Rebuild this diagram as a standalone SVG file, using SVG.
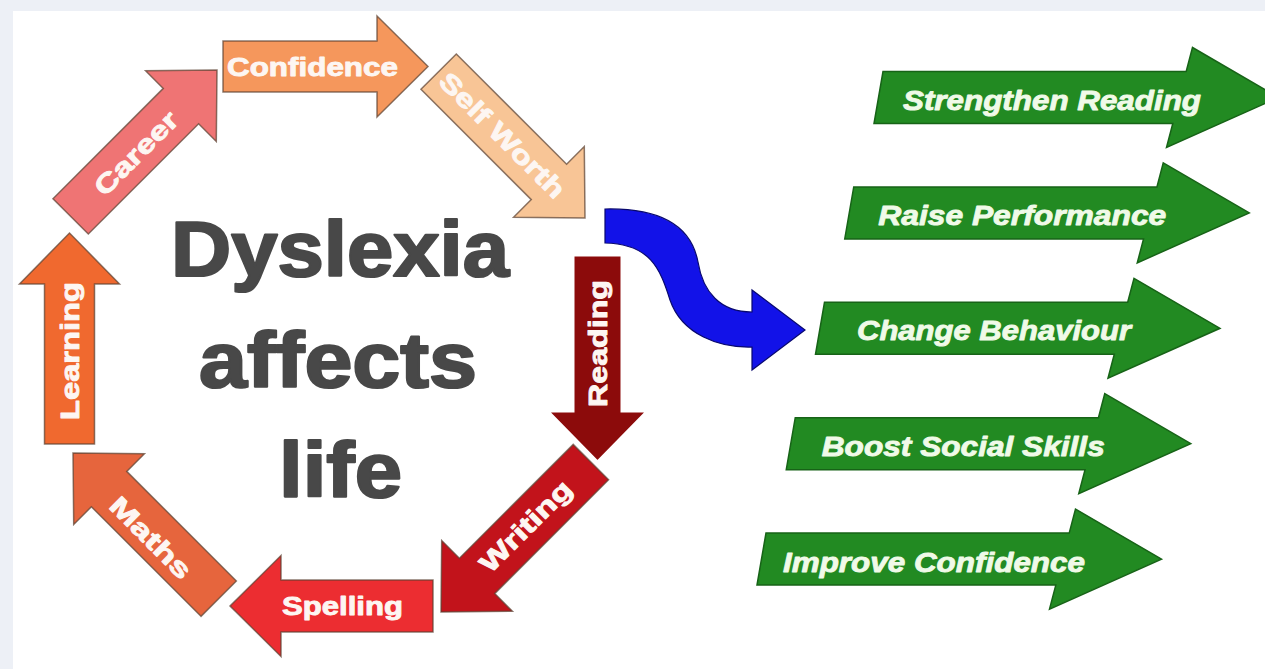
<svg xmlns="http://www.w3.org/2000/svg" width="1265" height="669" viewBox="0 0 1265 669">
<style>
.ring{stroke:#5a4030;stroke-opacity:.7;stroke-width:1.5;stroke-linejoin:miter}
.lbl{font-family:"Liberation Sans",Arial,sans-serif;font-weight:bold;font-size:26px;fill:#fdf6f2;stroke:#fdf6f2;stroke-width:0.9;stroke-linejoin:round}
.big{font-family:"Liberation Sans",Arial,sans-serif;font-weight:bold;font-size:77px;fill:#484848;stroke:#484848;stroke-width:2.2;stroke-linejoin:round}
.garr{fill:#228a22;stroke:#176317;stroke-width:1.5;stroke-linejoin:miter}
.gl{font-family:"Liberation Sans",Arial,sans-serif;font-weight:bold;font-style:italic;font-size:28px;fill:#f0fae8;stroke:#f0fae8;stroke-width:0.9;stroke-linejoin:round}
</style>
<defs>
<path id="gshape" d="M4.5,-26 L307.7,-26 L314,-50 L400,0 L288,50 L294.3,26 L-4.5,26 Z"/>
</defs>
<rect x="0" y="0" width="1265" height="669" fill="#edf0f6"/>
<rect x="13" y="11" width="1252" height="658" fill="#ffffff"/>

<g id="title">
<text class="big" x="340" y="276" text-anchor="middle" textLength="338" lengthAdjust="spacingAndGlyphs">Dyslexia</text>
<text class="big" x="338" y="387" text-anchor="middle" textLength="278" lengthAdjust="spacingAndGlyphs">affects</text>
<text class="big" x="340.5" y="497" text-anchor="middle" textLength="123" lengthAdjust="spacingAndGlyphs">life</text>
</g>

<g id="learning">
<path class="ring" fill="#f0692f" transform="translate(69.5,233) rotate(-90)" d="M-211,-25 H-51 V-50 L0,0 L-51,50 V25 H-211 Z"/>
<text class="lbl" transform="translate(69.5,351) rotate(-90)" x="0" y="9.3" text-anchor="middle" textLength="138" lengthAdjust="spacingAndGlyphs">Learning</text>
</g>
<g id="career">
<path class="ring" fill="#ef7474" transform="translate(217,70) rotate(-45)" d="M-207,-25 H-51 V-50 L0,0 L-51,50 V25 H-207 Z"/>
<text class="lbl" transform="translate(136,153) rotate(-45)" x="0" y="9.3" text-anchor="middle" textLength="107" lengthAdjust="spacingAndGlyphs">Career</text>
</g>
<g id="confidence">
<path class="ring" fill="#f5975c" transform="translate(428,66.5)" d="M-205,-25.5 H-51 V-50.5 L0,0 L-51,50.5 V25.5 H-205 Z"/>
<text class="lbl" x="312.5" y="75.8" text-anchor="middle" textLength="171" lengthAdjust="spacingAndGlyphs">Confidence</text>
</g>
<g id="selfworth">
<path class="ring" fill="#f8c596" transform="translate(585,218) rotate(45)" d="M-207,-25 H-51 V-50 L0,0 L-51,50 V25 H-207 Z"/>
<text class="lbl" transform="translate(502.5,135) rotate(45)" x="0" y="9.3" text-anchor="middle" textLength="166" lengthAdjust="spacingAndGlyphs">Self Worth</text>
</g>
<g id="writing">
<path class="ring" fill="#c2131b" transform="translate(441,612) rotate(135)" d="M-212,-25 H-51 V-50 L0,0 L-51,50 V25 H-212 Z"/>
<text class="lbl" transform="translate(525.5,526) rotate(-45)" x="0" y="9.3" text-anchor="middle" textLength="118" lengthAdjust="spacingAndGlyphs">Writing</text>
</g>
<g id="reading">
<path fill="#8c0b0b" stroke="#ffffff" stroke-width="3" transform="translate(597.5,462) rotate(90)" d="M-207,-24.5 H-51 V-50 L0,0 L-51,50 V24.5 H-207 Z"/>
<text class="lbl" transform="translate(597.5,343.5) rotate(-90)" x="0" y="9.3" text-anchor="middle" textLength="127" lengthAdjust="spacingAndGlyphs">Reading</text>
</g>
<g id="spelling">
<path class="ring" fill="#ec2d31" transform="translate(230,606) rotate(180)" d="M-203,-26 H-51 V-50.5 L0,0 L-51,50.5 V26 H-203 Z"/>
<text class="lbl" x="342.5" y="615.3" text-anchor="middle" textLength="121" lengthAdjust="spacingAndGlyphs">Spelling</text>
</g>
<g id="maths">
<path class="ring" fill="#e6653d" transform="translate(73,453) rotate(-135)" d="M-206,-25 H-51 V-50 L0,0 L-51,50 V25 H-206 Z"/>
<text class="lbl" transform="translate(151,537.5) rotate(45)" x="0" y="9.3" text-anchor="middle" textLength="104" lengthAdjust="spacingAndGlyphs">Maths</text>
</g>

<g id="connectors">
<path fill="#1212e8" stroke="#08086e" stroke-width="1.2" stroke-linejoin="miter" d="M605,209 C650,208 690,220 698,262 C703,292 720,312 752,312 L752,290 L805,330 L752,370 L752,347 C720,348 682,335 670,300 C660,268 650,244 605,243 Z"/>
</g>

<g id="strengthen-reading" transform="translate(878.5,97.5)">
<use href="#gshape" class="garr"/>
<text class="gl" x="24.5" y="12" textLength="298" lengthAdjust="spacingAndGlyphs">Strengthen Reading</text>
</g>
<g id="raise-performance" transform="translate(849.25,212.9)">
<use href="#gshape" class="garr"/>
<text class="gl" x="29" y="12" textLength="288" lengthAdjust="spacingAndGlyphs">Raise Performance</text>
</g>
<g id="change-behaviour" transform="translate(820,328.3)">
<use href="#gshape" class="garr"/>
<text class="gl" x="37" y="12" textLength="274" lengthAdjust="spacingAndGlyphs">Change Behaviour</text>
</g>
<g id="boost-social-skills" transform="translate(790.75,443.7)">
<use href="#gshape" class="garr"/>
<text class="gl" x="31" y="12.5" textLength="283" lengthAdjust="spacingAndGlyphs">Boost Social Skills</text>
</g>
<g id="improve-confidence" transform="translate(761.5,559.1)">
<use href="#gshape" class="garr"/>
<text class="gl" x="21.5" y="12.5" textLength="302" lengthAdjust="spacingAndGlyphs">Improve Confidence</text>
</g>
</svg>
